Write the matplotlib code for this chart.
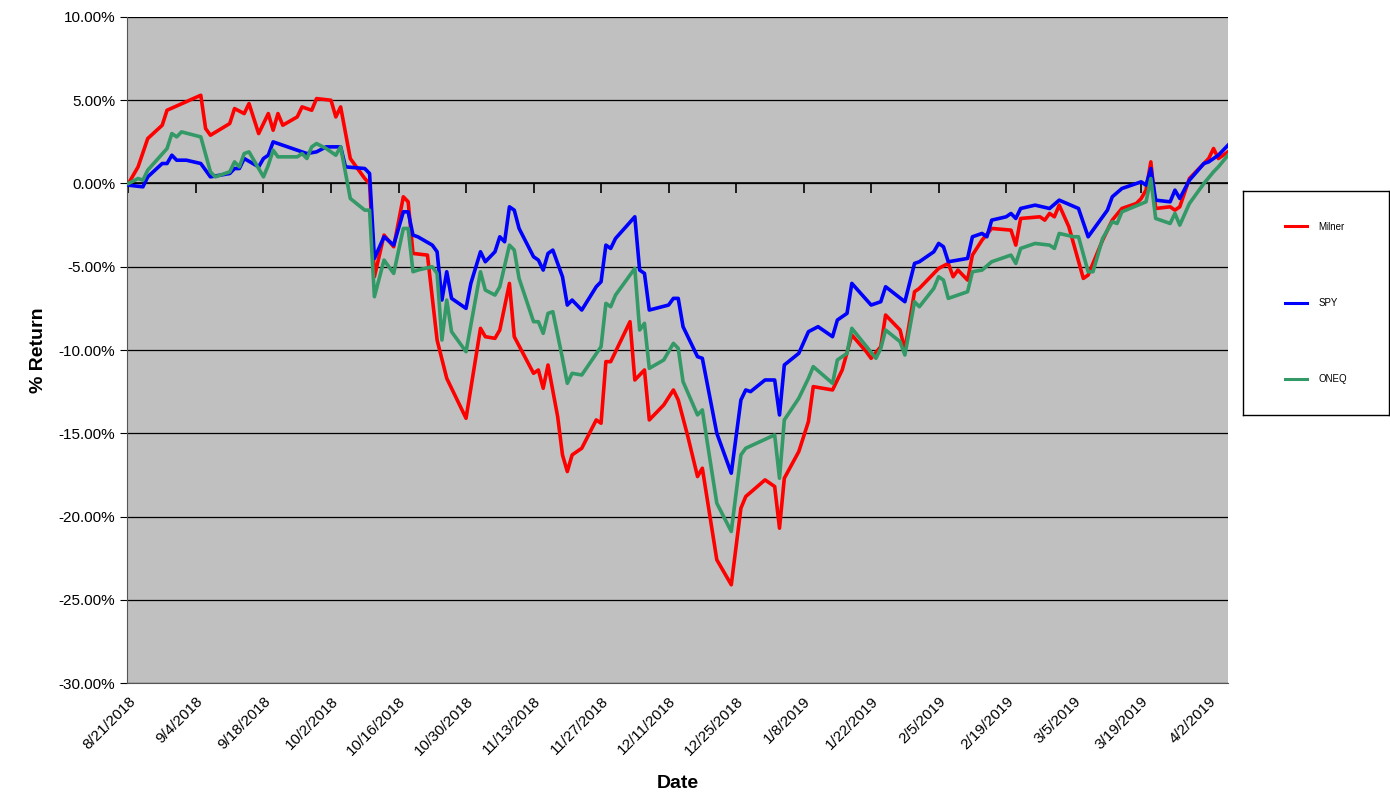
import pandas as pd
import matplotlib.pyplot as plt
import matplotlib.ticker as mtick
from matplotlib.lines import Line2D

plt.rcParams["font.family"] = ["Liberation Sans", "DejaVu Sans"]
plt.rcParams["axes.unicode_minus"] = False

# ==========================================================
# DADOS (dias desde 8/21/2018, retorno em %)
# ==========================================================

INICIO = pd.Timestamp("2018-08-21")

milner_dias = [0, 2, 4, 7, 8, 15, 16, 17, 21, 22, 24, 25, 27, 29, 30, 31, 32, 35, 36, 38,
               39, 42, 43, 44, 46, 49, 50, 51, 53, 55, 57, 58, 59, 62, 64, 66, 70, 73, 74, 76,
               77, 79, 80, 84, 85, 86, 87, 89, 90, 91, 92, 94, 97, 98, 99, 100, 104, 105, 107, 108,
               111, 113, 114, 116, 118, 119, 122, 125, 127, 128, 132, 134, 135, 136, 139, 141, 142, 146, 148, 150,
               153, 154, 156, 157, 160, 161, 163, 164, 168, 170, 171, 172, 174, 175, 177, 179, 183, 184, 185, 189,
               190, 191, 192, 193, 195, 198, 199, 202, 204, 206, 209, 210, 211, 212, 213, 216, 217, 218, 220, 223,
               224, 225, 226, 228]
milner = [0, 1.0, 2.7, 3.5, 4.4, 5.3, 3.3, 2.9, 3.6, 4.5, 4.2, 4.8, 3.0, 4.2, 3.2, 4.2, 3.5, 4.0, 4.6, 4.4,
          5.1, 5.0, 4.0, 4.6, 1.5, 0.3, 0.0, -5.6, -3.1, -3.8, -0.8, -1.1, -4.2, -4.3, -9.4, -11.7, -14.1, -8.7, -9.2, -9.3,
          -8.8, -6.0, -9.2, -11.4, -11.2, -12.3, -10.9, -14.0, -16.3, -17.3, -16.3, -15.9, -14.2, -14.4, -10.7, -10.7, -8.3, -11.8, -11.2, -14.2,
          -13.3, -12.4, -13.0, -15.2, -17.6, -17.1, -22.6, -24.1, -19.5, -18.8, -17.8, -18.2, -20.7, -17.7, -16.1, -14.3, -12.2, -12.4, -11.2, -9.1,
          -10.1, -10.5, -9.8, -7.9, -8.8, -10.0, -6.5, -6.3, -5.1, -4.8, -5.6, -5.2, -5.8, -4.3, -3.4, -2.7, -2.8, -3.7, -2.1, -2.0,
          -2.2, -1.8, -2.0, -1.3, -2.6, -5.7, -5.5, -3.4, -2.2, -1.5, -1.2, -0.9, -0.4, 1.3, -1.5, -1.4, -1.6, -1.4, 0.3, 1.2,
          1.5, 2.1, 1.5, 1.9]

spy_dias = [0, 3, 4, 7, 8, 9, 10, 12, 15, 17, 21, 22, 23, 24, 27, 28, 29, 30, 35, 37,
            39, 41, 44, 45, 49, 50, 51, 53, 55, 57, 58, 59, 60, 63, 64, 65, 66, 67, 70, 71,
            73, 74, 76, 77, 78, 79, 80, 81, 84, 85, 86, 87, 88, 90, 91, 92, 94, 97, 98, 99,
            100, 101, 105, 106, 107, 108, 112, 113, 114, 115, 118, 119, 122, 125, 127, 128, 129, 132, 134, 135,
            136, 139, 141, 143, 146, 147, 149, 150, 154, 156, 157, 161, 163, 164, 167, 168, 169, 170, 174, 175,
            177, 178, 179, 182, 183, 184, 185, 188, 191, 193, 197, 199, 203, 204, 206, 210, 211, 212, 213, 216,
            217, 218, 220, 223, 224, 226, 228]
spy = [-0.1, -0.2, 0.4, 1.2, 1.2, 1.7, 1.4, 1.4, 1.2, 0.4, 0.6, 0.9, 0.9, 1.5, 1.0, 1.5, 1.7, 2.5, 2.0, 1.8,
       1.9, 2.2, 2.2, 1.0, 0.9, 0.6, -4.5, -3.2, -3.7, -1.7, -1.7, -3.1, -3.2, -3.7, -4.1, -7.0, -5.3, -6.9, -7.5, -6.0,
       -4.1, -4.7, -4.1, -3.2, -3.5, -1.4, -1.6, -2.7, -4.4, -4.6, -5.2, -4.2, -4.0, -5.6, -7.3, -7.0, -7.6, -6.2, -5.9, -3.7,
       -3.9, -3.3, -2.0, -5.2, -5.4, -7.6, -7.3, -6.9, -6.9, -8.6, -10.4, -10.5, -15.0, -17.4, -13.0, -12.4, -12.5, -11.8, -11.8, -13.9,
       -10.9, -10.2, -8.9, -8.6, -9.2, -8.2, -7.8, -6.0, -7.3, -7.1, -6.2, -7.1, -4.8, -4.7, -4.1, -3.6, -3.8, -4.7, -4.5, -3.2,
       -3.0, -3.2, -2.2, -2.0, -1.8, -2.1, -1.5, -1.3, -1.5, -1.0, -1.5, -3.2, -1.6, -0.8, -0.3, 0.1, -0.1, 0.9, -1.0, -1.1,
       -0.4, -0.9, 0.2, 1.2, 1.3, 1.7, 2.3]

oneq_dias = [0, 2, 3, 4, 8, 9, 10, 11, 15, 17, 18, 21, 22, 23, 24, 25, 28, 29, 30, 31,
             35, 36, 37, 38, 39, 41, 43, 44, 46, 49, 50, 51, 53, 55, 57, 58, 59, 60, 63, 64,
             65, 66, 67, 70, 73, 74, 76, 77, 79, 80, 81, 84, 85, 86, 87, 88, 90, 91, 92, 94,
             98, 99, 100, 101, 105, 106, 107, 108, 111, 113, 114, 115, 118, 119, 120, 122, 125, 127, 128, 134,
             135, 136, 139, 141, 142, 146, 147, 149, 150, 155, 156, 157, 160, 161, 163, 164, 167, 168, 169, 170,
             174, 175, 177, 179, 183, 184, 185, 188, 191, 192, 193, 196, 197, 199, 200, 202, 204, 205, 206, 211,
             212, 213, 216, 217, 218, 220, 223, 225, 226, 228]
oneq = [0, 0.3, 0.2, 0.8, 2.1, 3.0, 2.8, 3.1, 2.8, 0.7, 0.4, 0.7, 1.3, 1.0, 1.8, 1.9, 0.4, 1.1, 2.0, 1.6,
        1.6, 1.8, 1.5, 2.2, 2.4, 2.1, 1.7, 2.2, -0.9, -1.6, -1.6, -6.8, -4.6, -5.4, -2.7, -2.7, -5.3, -5.2, -5.0, -5.4,
        -9.4, -7.0, -8.9, -10.1, -5.3, -6.4, -6.7, -6.2, -3.7, -4.0, -5.7, -8.3, -8.3, -9.0, -7.8, -7.7, -10.5, -12.0, -11.4, -11.5,
        -9.8, -7.2, -7.4, -6.7, -5.1, -8.8, -8.4, -11.1, -10.6, -9.6, -9.9, -11.9, -13.9, -13.6, -15.5, -19.2, -20.9, -16.3, -15.9, -15.1,
        -17.7, -14.2, -12.9, -11.7, -11.0, -12.0, -10.6, -10.2, -8.7, -10.5, -9.9, -8.8, -9.5, -10.3, -7.1, -7.4, -6.3, -5.6, -5.8, -6.9,
        -6.5, -5.3, -5.2, -4.7, -4.3, -4.8, -3.9, -3.6, -3.7, -3.9, -3.0, -3.2, -3.2, -5.3, -5.3, -3.3, -2.3, -2.4, -1.7, -1.1,
        0.3, -2.1, -2.4, -1.8, -2.5, -1.2, 0.0, 0.7, 1.0, 1.7]

rotulos_x = ["8/21/2018", "9/4/2018", "9/18/2018", "10/2/2018", "10/16/2018", "10/30/2018",
             "11/13/2018", "11/27/2018", "12/11/2018", "12/25/2018", "1/8/2019", "1/22/2019",
             "2/5/2019", "2/19/2019", "3/5/2019", "3/19/2019", "4/2/2019"]


def datas(dias):
    return INICIO + pd.to_timedelta(dias, unit="D")


# ==========================================================
# GRÁFICO
# ==========================================================

fig = plt.figure(figsize=(13.9, 8.05), dpi=100)
ax = fig.add_axes([127 / 1390, 1 - 683 / 805, (1228 - 127) / 1390, (683 - 17) / 805])
ax.set_facecolor("#C0C0C0")

ax.plot(datas(milner_dias), [v / 100 for v in milner], color="#FF0000", lw=2.6, label="Milner", zorder=3)
ax.plot(datas(spy_dias), [v / 100 for v in spy], color="#0000FF", lw=2.6, label="SPY", zorder=4)
ax.plot(datas(oneq_dias), [v / 100 for v in oneq], color="#339966", lw=2.6, label="ONEQ", zorder=5)

ticks = pd.to_datetime(rotulos_x, format="%m/%d/%Y")
ax.set_xlim(INICIO - pd.Timedelta(days=0.3), INICIO + pd.Timedelta(days=228))
ax.set_ylim(-0.30, 0.10)
ax.set_xticks(ticks)
ax.set_xticklabels(rotulos_x, rotation=45, ha="right", rotation_mode="anchor", fontsize=11)
ax.tick_params(axis="x", length=0, pad=8)
ax.yaxis.set_major_locator(mtick.MultipleLocator(0.05))
ax.yaxis.set_major_formatter(mtick.PercentFormatter(1.0, decimals=2))
ax.tick_params(axis="y", labelsize=11, length=5, direction="out")
ax.grid(axis="y", color="black", lw=0.9)
ax.set_axisbelow(True)

# eixo horizontal cruzando em 0%
ax.axhline(0, color="black", lw=1.2, zorder=2)
ax.vlines(ticks, -0.006, 0, color="black", lw=1.2, zorder=2)

for lado in ["top", "right"]:
    ax.spines[lado].set_visible(False)
ax.spines["left"].set_color("#555555")
ax.spines["bottom"].set_color("#555555")

ax.set_xlabel("Date", fontsize=14, fontweight="bold", labelpad=12)
ax.set_ylabel("% Return", fontsize=14, fontweight="bold", labelpad=8)

# legenda em caixa separada
ax_leg = fig.add_axes([1243 / 1390, 1 - 415 / 805, 146 / 1390, 224 / 805])
ax_leg.set_xticks([])
ax_leg.set_yticks([])
for s in ax_leg.spines.values():
    s.set_color("black")
    s.set_linewidth(1)
handles = [Line2D([], [], color="#FF0000", lw=2.2),
           Line2D([], [], color="#0000FF", lw=2.2),
           Line2D([], [], color="#339966", lw=2.2)]
ax_leg.legend(handles, ["Milner", "SPY", "ONEQ"], loc="center", frameon=False,
              fontsize=7, labelspacing=6.8, handlelength=2.2, handletextpad=1.2)

fig.savefig("out.png", dpi=100)
